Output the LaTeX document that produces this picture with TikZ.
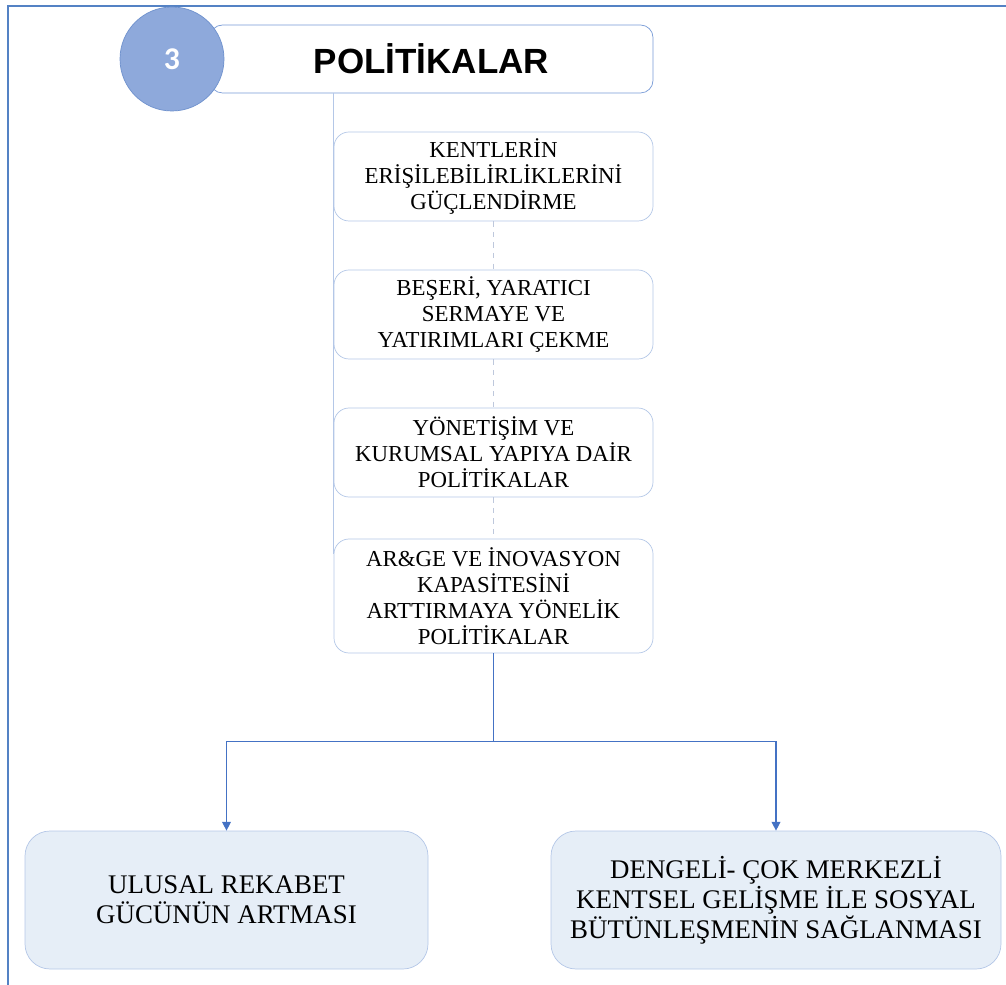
\documentclass[tikz,border=0pt]{standalone}
\usepackage{fontspec}
\setmainfont{Liberation Serif}
\newfontfamily\headfont{Liberation Sans}
\newfontfamily\numfont{Carlito}
\usetikzlibrary{arrows.meta,calc}
\definecolor{frameblue}{RGB}{84,130,196}
\definecolor{headline}{RGB}{120,155,215}
\definecolor{circfill}{RGB}{142,169,219}
\definecolor{circline}{RGB}{110,145,205}
\definecolor{boxline}{RGB}{180,199,231}
\definecolor{dashline}{RGB}{190,200,220}
\definecolor{linkblue}{RGB}{68,114,196}
\definecolor{outfill}{RGB}{230,238,247}

\begin{document}
\begin{tikzpicture}[
    polbox/.style={draw=boxline, fill=white, rounded corners=0.3cm, minimum width=6.38cm, minimum height=1.78cm, align=center, inner sep=2pt, font=\fontsize{13}{14.7}\selectfont},
    outbox/.style={draw=boxline, fill=outfill, rounded corners=0.5cm, minimum height=2.76cm, align=center, font=\fontsize{15.3}{17.2}\selectfont},
    link/.style={draw=linkblue, line width=0.7pt}
  ]
            \useasboundingbox (0,0) rectangle (20.12,-19.7);
            \draw[frameblue, line width=1.4pt] (0.16,-19.7) -- (0.16,-0.12) -- (20.12,-0.12);
            \node[draw=headline, fill=white, rounded corners=0.25cm, minimum width=8.86cm, minimum height=1.36cm, font=\headfont\bfseries\fontsize{19.9}{24}\selectfont] (Title) at (8.63,-1.18) {POLİTİKALAR};
            \node[circle, draw=circline, fill=circfill, minimum size=2.08cm, text=white, font=\numfont\bfseries\fontsize{18}{20}\selectfont] (Num) at (3.44,-1.18) {3};
            \node[polbox] (Pol0) at (9.87,-3.53) {KENTLERİN\\ERİŞİLEBİLİRLİKLERİNİ\\GÜÇLENDİRME};
            \node[polbox] (Pol1) at (9.87,-6.29) {BEŞERİ, YARATICI\\SERMAYE VE\\YATIRIMLARI ÇEKME};
            \node[polbox] (Pol2) at (9.87,-9.05) {YÖNETİŞİM VE\\KURUMSAL YAPIYA DAİR\\POLİTİKALAR};
            \node[polbox, minimum height=2.28cm] (Pol3) at (9.87,-11.92) {AR\&GE VE İNOVASYON\\KAPASİTESİNİ\\ARTTIRMAYA YÖNELİK\\POLİTİKALAR};
            \node[outbox, minimum width=8.06cm] (Out0) at (4.53,-18.0) {ULUSAL REKABET\\GÜCÜNÜN ARTMASI};
            \node[outbox, minimum width=9.0cm] (Out1) at (15.52,-18.0) {DENGELİ- ÇOK MERKEZLİ\\KENTSEL GELİŞME İLE SOSYAL\\BÜTÜNLEŞMENİN SAĞLANMASI};
            \coordinate (Split) at ($(Pol3.south)+(0,-1.76)$);
            \draw[boxline, line width=0.6pt] (Title.south -| Pol0.west) -- ($(Pol3.north west)+(0,-0.3)$);
            \draw[dashline, dashed] (Pol0.south) -- (Pol1.north);
            \draw[dashline, dashed] (Pol1.south) -- (Pol2.north);
            \draw[dashline, dashed] (Pol2.south) -- (Pol3.north);
            \draw[link] (Pol3.south) -- (Split);
            \draw[link, -{Triangle[length=5pt,width=5pt]}] (Split) -| (Out0.north);
            \draw[link, -{Triangle[length=5pt,width=5pt]}] (Split) -| (Out1.north);
\end{tikzpicture}
\end{document}
